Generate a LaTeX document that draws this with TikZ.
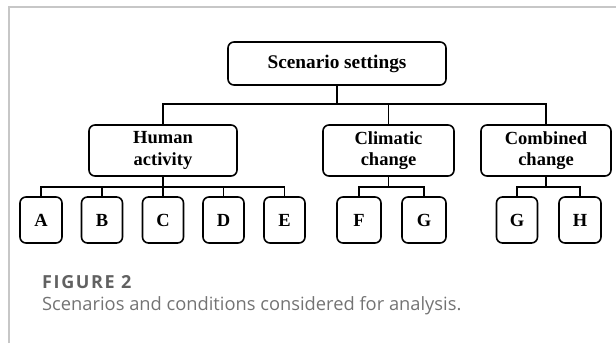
\documentclass[tikz,border=0pt]{standalone}
\usepackage{fontspec}
\setmainfont{Liberation Serif}
\newfontfamily\capfont[Ligatures=NoCommon]{Open Sans}
\newfontfamily\captitlefont[LetterSpace=9]{Open Sans}
\begin{document}
\begin{tikzpicture}[x=1pt,y=-1pt,
  box/.style={draw,line width=1.6pt,rounded corners=6pt,inner sep=0pt,
    align=center,font=\bfseries\fontsize{18.5}{21.5}\selectfont},
  leaf/.style={box,minimum height=46pt},
  link/.style={line width=1.4pt},
  frameline/.style={draw=black!22,line width=1.2pt},
  captitle/.style={anchor=base west,inner sep=0pt,text=black!62,
    font=\captitlefont\bfseries\fontsize{18}{20}\selectfont},
  captext/.style={anchor=base west,inner sep=0pt,text=black!55,
    font=\capfont\fontsize{18.3}{20}\selectfont}]
\useasboundingbox (0,0) rectangle (616,343);
% panel border
\draw[frameline] (9,343) -- (9,7) -- (616,7);

% tree levels
\node[box,minimum width=218pt,minimum height=43pt,font=\bfseries\fontsize{19.3}{21.5}\selectfont] (root) at (337,63.5) {Scenario settings};
\node[box,minimum width=148pt,minimum height=51pt] (human) at (163,150.5) {Human\\activity};
\node[box,minimum width=131pt,minimum height=51pt] (climatic) at (388.5,150.5) {Climatic\\change};
\node[box,minimum width=130pt,minimum height=51pt] (combined) at (546,150.5) {Combined\\change};

\node[leaf,minimum width=42pt] (A) at (41,220) {A};
\node[leaf,minimum width=41pt] (B) at (102,220) {B};
\node[leaf,minimum width=41pt] (C) at (163,220) {C};
\node[leaf,minimum width=41pt] (D) at (223.5,220) {D};
\node[leaf,minimum width=41pt] (E) at (284.5,220) {E};
\node[leaf,minimum width=44pt] (F) at (359,220) {F};
\node[leaf,minimum width=44pt] (G) at (424,220) {G};
\node[leaf,minimum width=41pt] (G2) at (517,220) {G};
\node[leaf,minimum width=42pt] (H) at (580,220) {H};

% bus lines
\coordinate (bus1) at (0,104);
\coordinate (bus2) at (0,187);

\draw[link] (root.south) -- (root.south |- bus1);
\draw[link] (human.north) |- (bus1 -| combined.north) -- (combined.north);
\draw[link] (climatic.north) -- (climatic.north |- bus1);

\draw[link] (human.south) -- (human.south |- bus2);
\draw[link] (A.north) |- (bus2 -| E.north) -- (E.north);
\foreach \n in {B,C,D} \draw[link] (\n.north) -- (\n.north |- bus2);

\draw[link] (climatic.south) -- (climatic.south |- bus2);
\draw[link] (F.north) |- (bus2 -| G.north) -- (G.north);

\draw[link] (combined.south) -- (combined.south |- bus2);
\draw[link] (G2.north) |- (bus2 -| H.north) -- (H.north);

% caption
\node[captitle] (figlabel) at (42,288) {FIGURE 2};
\node[captext] (figtext) at (42,310.5) {Scenarios and conditions considered for analysis.};
\end{tikzpicture}
\end{document}
